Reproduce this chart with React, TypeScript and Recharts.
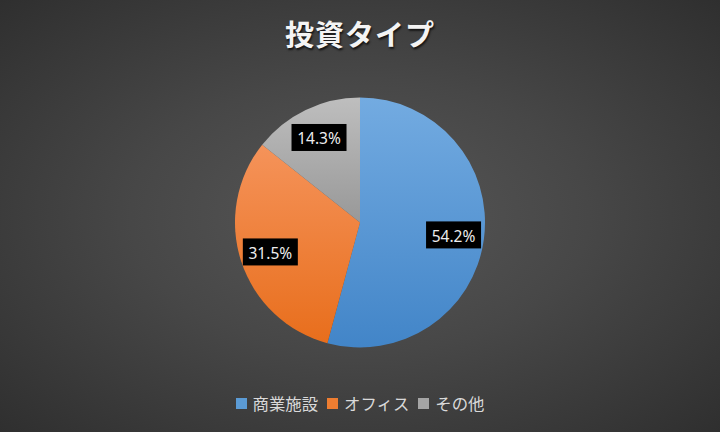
import React from "react";
import { PieChart, Pie, Cell, Legend } from "recharts";

// Investment type breakdown
const categories = ["商業施設", "オフィス", "その他"];
const shares = [54.2, 31.5, 14.3];

const COLORS = ["#5B9BD5", "#ED7D31", "#A5A5A5"];
const GRADIENTS = [
    ["#73ABE1", "#4285C8"],
    ["#F5935A", "#E86E1C"],
    ["#BEBEBE", "#989898"],
];

const data = categories.map((name, i) => ({ name, value: shares[i] }));

const RADIAN = Math.PI / 180;
const FONT = '"Noto Sans CJK JP", "Noto Sans", sans-serif';

function BoxLabel(props: any) {
    const { cx, cy, midAngle, outerRadius, value } = props;
    const r = outerRadius * 0.755;
    const x = cx + r * Math.cos(-midAngle * RADIAN);
    const y = cy + r * Math.sin(-midAngle * RADIAN);
    const w = 55;
    const h = 27;
    return (
        <g>
            <rect x={x - w / 2} y={y - h / 2} width={w} height={h} fill="#000000" />
            <text
                x={x}
                y={y + 1}
                textAnchor="middle"
                dominantBaseline="central"
                fill="#EDEDED"
                fontSize={15.5}
                fontFamily='"Noto Sans", sans-serif'
            >
                {value.toFixed(1)}%
            </text>
        </g>
    );
}

function LegendContent() {
    return (
        <div style={{ display: "flex", justifyContent: "center", alignItems: "center", fontFamily: FONT }}>
            {categories.map((name, i) => (
                <div key={name} style={{ display: "flex", alignItems: "center", marginRight: i < categories.length - 1 ? 9 : 0 }}>
                    <span
                        style={{
                            display: "inline-block",
                            width: 11,
                            height: 11,
                            background: COLORS[i],
                            marginRight: 6,
                        }}
                    />
                    <span style={{ color: "#D9D9D9", fontSize: 16.4 }}>{name}</span>
                </div>
            ))}
        </div>
    );
}

export default function App() {
    return (
        <div
            style={{
                position: "absolute",
                left: 0,
                top: 0,
                width: 720,
                height: 432,
                background: "radial-gradient(ellipse at 50% 50%, #575757 0%, #474747 45%, #2f2f2f 100%)",
                fontFamily: FONT,
            }}
        >
            <div
                style={{
                    position: "absolute",
                    top: 12,
                    left: 0,
                    width: 720,
                    textAlign: "center",
                    color: "#F4F4F4",
                    fontSize: 29,
                    fontWeight: 700,
                    lineHeight: "42px",
                    textShadow: "1px 2px 2px rgba(0,0,0,0.7)",
                    letterSpacing: 1,
                }}
            >
                投資タイプ
            </div>
            <PieChart width={720} height={432} margin={{ top: 0, right: 0, bottom: 0, left: 0 }}>
                <defs>
                    {GRADIENTS.map((g, i) => (
                        <linearGradient key={i} id={`grad-${i}`} x1="0" y1="0" x2="0" y2="1">
                            <stop offset="0%" stopColor={g[0]} />
                            <stop offset="100%" stopColor={g[1]} />
                        </linearGradient>
                    ))}
                </defs>
                <Pie
                    data={data}
                    dataKey="value"
                    nameKey="name"
                    cx={360}
                    cy={222.5}
                    outerRadius={125}
                    startAngle={90}
                    endAngle={-270}
                    stroke="none"
                    label={BoxLabel}
                    labelLine={false}
                    isAnimationActive={false}
                >
                    {data.map((entry, index) => (
                        <Cell key={`cell-${index}`} fill={`url(#grad-${index})`} />
                    ))}
                </Pie>
                <Legend
                    content={LegendContent}
                    wrapperStyle={{ top: 390, bottom: "auto", left: 0, width: 720, lineHeight: "26px" }}
                />
            </PieChart>
        </div>
    );
}
